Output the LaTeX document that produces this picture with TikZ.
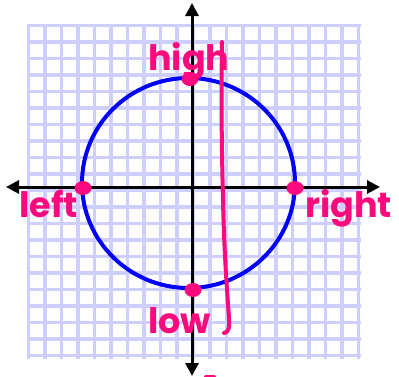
\documentclass[tikz,border=0pt]{standalone}
\usepackage{fontspec}
\setmainfont{Poppins}
\usetikzlibrary{arrows.meta,shapes.geometric}
\definecolor{gridc}{RGB}{206,206,255}
\definecolor{pinkc}{RGB}{250,10,125}
\definecolor{bluec}{RGB}{0,0,250}
\tikzset{
  gridline/.style={draw=gridc, line width=3.8pt},
  axisline/.style={draw=black, line width=3pt, -{Triangle[length=13pt,width=13pt]}},
  curveline/.style={draw=bluec, line width=4pt},
  pinkdot/.style={ellipse, fill=pinkc, minimum width=17pt, minimum height=14pt, inner sep=0pt},
  lbl/.style={text=pinkc, font=\fontsize{35}{35}\selectfont\bfseries, inner sep=0pt, anchor=base west},
  pinkline/.style={draw=pinkc, line width=4pt, line cap=round, line join=round}
}
\begin{document}
\begin{tikzpicture}[x=1pt,y=-1pt]
\useasboundingbox (0,0) rectangle (399,376);
% grid
\foreach \i in {0,...,20} {
  \draw[gridline] ({28.5+\i*16.5},24) -- ({28.5+\i*16.5},358.5);
  \draw[gridline] (26.5,{25.5+\i*16.5}) -- (360.5,{25.5+\i*16.5});
}
% axes
\coordinate (o) at (192,187);
\coordinate (xl) at (6,187);
\coordinate (xr) at (380,187);
\coordinate (yt) at (192,3);
\coordinate (yb) at (192,376);
\draw[axisline] (o) -- (xl);
\draw[axisline] (o) -- (xr);
\draw[axisline] (o) -- (yt);
\draw[axisline] (o) -- (yb);
% circle
\coordinate (c) at (188.5,183);
\draw[curveline] (c) ellipse [x radius=106.5pt, y radius=105pt];
% dots
\node[pinkdot] (dh) at (190,79) {};
\node[pinkdot] (dl) at (193,290) {};
\node[pinkdot] (dle) at (83,188) {};
\node[pinkdot] (dr) at (295,188) {};
% labels
\node[lbl] (th) at (148,70) {high};
\node[lbl] (tl) at (148,333) {low};
\node[lbl] (tle) at (19,217) {left};
\node[lbl] (tr) at (305,217) {right};
% hand-drawn line
\draw[pinkline] (222,42) .. controls (221,110) and (222,160) .. (223,200)
  .. controls (224,250) and (227,290) .. (229,318)
  .. controls (230,328) and (228,333) .. (224,333);
\draw[pinkline] (206,377) -- (214,377);
\end{tikzpicture}
\end{document}
